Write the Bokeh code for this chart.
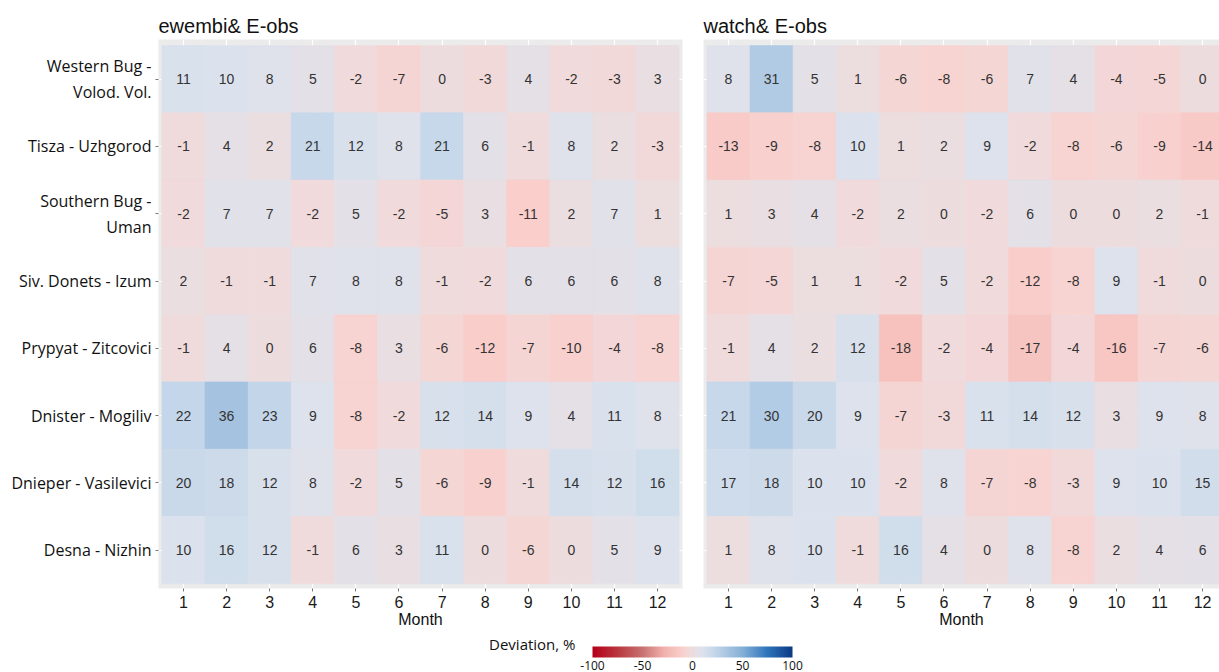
import numpy as np
from bokeh.plotting import figure
from bokeh.models import (ColumnDataSource, LinearColorMapper, ColorBar, FixedTicker,
                          Range1d, Label)
from bokeh.layouts import row, column
from bokeh.transform import transform
from bokeh.core.properties import value
from bokeh.embed import file_html
from bokeh.resources import INLINE

# ---------------- data ----------------
rivers = ["Western Bug -\nVolod. Vol.", "Tisza - Uzhgorod", "Southern Bug -\nUman",
          "Siv. Donets - Izum", "Prypyat - Zitcovici", "Dnister - Mogiliv",
          "Dnieper - Vasilevici", "Desna - Nizhin"]
months = [1, 2, 3, 4, 5, 6, 7, 8, 9, 10, 11, 12]

ewembi_vals = [
    [11, 10, 8, 5, -2, -7, 0, -3, 4, -2, -3, 3],
    [-1, 4, 2, 21, 12, 8, 21, 6, -1, 8, 2, -3],
    [-2, 7, 7, -2, 5, -2, -5, 3, -11, 2, 7, 1],
    [2, -1, -1, 7, 8, 8, -1, -2, 6, 6, 6, 8],
    [-1, 4, 0, 6, -8, 3, -6, -12, -7, -10, -4, -8],
    [22, 36, 23, 9, -8, -2, 12, 14, 9, 4, 11, 8],
    [20, 18, 12, 8, -2, 5, -6, -9, -1, 14, 12, 16],
    [10, 16, 12, -1, 6, 3, 11, 0, -6, 0, 5, 9],
]
watch_vals = [
    [8, 31, 5, 1, -6, -8, -6, 7, 4, -4, -5, 0],
    [-13, -9, -8, 10, 1, 2, 9, -2, -8, -6, -9, -14],
    [1, 3, 4, -2, 2, 0, -2, 6, 0, 0, 2, -1],
    [-7, -5, 1, 1, -2, 5, -2, -12, -8, 9, -1, 0],
    [-1, 4, 2, 12, -18, -2, -4, -17, -4, -16, -7, -6],
    [21, 30, 20, 9, -7, -3, 11, 14, 12, 3, 9, 8],
    [17, 18, 10, 10, -2, 8, -7, -8, -3, 9, 10, 15],
    [1, 8, 10, -1, 16, 4, 0, 8, -8, 2, 4, 6],
]
legend_ticks = [-100, -50, 0, 50, 100]
legend_labels = ["-100", "-50", "0", "50", "100"]

# ---------------- colour palette ----------------
anchor_v = [-100, -75, -50, -30, -18, -12, -8, -3, 0, 5, 10, 20, 30, 36, 50, 75, 100]
anchor_c = ["#b5001b", "#b8383e", "#c97273", "#f0aeaa", "#f7c3bf", "#f9cdca",
            "#f7d3d1", "#f1d9da", "#eedcdd", "#e4e0e7", "#dce2ed", "#c9d9ea",
            "#b3cce6", "#a6c3e0", "#85b0d8", "#2f74ba", "#0a3a82"]
rgb = np.array([[int(c[i:i + 2], 16) for i in (1, 3, 5)] for c in anchor_c], float)
vals = np.linspace(-100, 100, 256)
pal = []
for v in vals:
    ch = [np.interp(v, anchor_v, rgb[:, k]) for k in range(3)]
    pal.append("#%02x%02x%02x" % tuple(int(round(c)) for c in ch))
mapper = LinearColorMapper(palette=pal, low=-100, high=100)

PX_X = 43.1
FRAME_H = 549


def make_panel(title, data, show_y, frame_width, border_left, border_right):
    xs, ys, vs, labs = [], [], [], []
    n = len(rivers)
    for i, r in enumerate(rivers):
        for j, m in enumerate(months):
            xs.append(m)
            ys.append(n - i)
            vs.append(data[i][j])
            labs.append(str(data[i][j]))
    src = ColumnDataSource(dict(x=xs, y=ys, v=vs, lab=labs))
    x0 = 0.42
    p = figure(title=title, frame_width=frame_width, frame_height=FRAME_H,
               x_range=Range1d(x0, x0 + frame_width / PX_X),
               y_range=Range1d(0.43, 0.43 + 8.16),
               toolbar_location=None, output_backend="svg",
               y_axis_location="left" if show_y else None,
               min_border_left=border_left, min_border_right=border_right,
               min_border_top=39, min_border_bottom=44)
    p.background_fill_color = "#ebebeb"
    p.border_fill_color = "white"
    p.outline_line_color = None
    p.rect(x="x", y="y", width=1, height=1, source=src,
           fill_color=transform("v", mapper), line_color=transform("v", mapper),
           line_width=0.6)
    p.text(x="x", y="y", text="lab", source=src, text_font=value("Liberation Sans"),
           text_font_size="14px", text_color="#333333", text_align="center",
           text_baseline="middle")
    p.title.text_font = "Liberation Sans"
    p.title.text_font_size = "20px"
    p.title.text_font_style = "normal"
    p.title.text_color = "#111111"
    p.title.align = "left"
    p.title.standoff = 6

    p.xaxis.ticker = FixedTicker(ticks=months)
    p.xaxis.axis_label = "Month"
    p.xaxis.axis_label_text_font = "Liberation Sans"
    p.xaxis.axis_label_text_font_size = "16px"
    p.xaxis.axis_label_text_font_style = "normal"
    p.xaxis.axis_label_text_color = "#111111"
    p.xaxis.axis_label_standoff = 0
    p.xaxis.major_label_text_font = "Liberation Sans"
    p.xaxis.major_label_text_font_size = "16px"
    p.xaxis.major_label_text_color = "#1a1a1a"
    p.xaxis.major_label_standoff = 4
    p.xaxis.axis_line_color = None
    p.xaxis.major_tick_line_color = "#777777"
    p.xaxis.major_tick_in = 0
    p.xaxis.major_tick_out = 3
    p.xaxis.minor_tick_line_color = None

    yt = list(range(1, len(rivers) + 1))
    if show_y:
        p.yaxis.ticker = FixedTicker(ticks=yt)
        p.yaxis.major_label_overrides = {len(rivers) - i: r for i, r in enumerate(rivers)}
        p.yaxis.major_label_text_font = "Open Sans"
        p.yaxis.major_label_text_font_size = "16px"
        p.yaxis.major_label_text_color = "#111111"
        p.yaxis.major_label_standoff = 4
        p.yaxis.axis_line_color = None
        p.yaxis.major_tick_line_color = "#777777"
        p.yaxis.major_tick_in = 0
        p.yaxis.major_tick_out = 3
        p.yaxis.minor_tick_line_color = None
    p.xgrid.ticker = FixedTicker(ticks=months)
    p.ygrid.ticker = FixedTicker(ticks=yt)
    p.grid.grid_line_color = "white"
    p.grid.grid_line_width = 1.2
    return p


p1 = make_panel("ewembi& E-obs", ewembi_vals, True, 524, 158, 21)
p2 = make_panel("watch& E-obs", watch_vals, False, 516, 0, 0)

# ---------------- colour bar ----------------
pc = figure(width=1219, height=40, x_range=Range1d(0, 1), y_range=Range1d(0, 1),
            toolbar_location=None, output_backend="svg",
            x_axis_location=None, y_axis_location=None, min_border=0)
pc.grid.visible = False
pc.outline_line_color = None
pc.background_fill_color = "white"
cb = ColorBar(color_mapper=mapper, orientation="horizontal", width=200, height=11,
              location=(592, 0), padding=0, margin=0,
              ticker=FixedTicker(ticks=legend_ticks),
              major_label_overrides=dict(zip(legend_ticks, legend_labels)),
              major_label_text_font="Open Sans", major_label_text_font_size="12px",
              major_label_text_color="#111111",
              major_tick_line_color=None, bar_line_color=None,
              background_fill_alpha=0, border_line_color=None, label_standoff=3)
pc.add_layout(cb, "center")
pc.add_layout(Label(x=575, y=29, x_units="screen", y_units="screen",
                    text="Deviation, %", text_align="right", text_baseline="middle",
                    text_font="Open Sans", text_font_size="15px",
                    text_color="#111111"))

layout = column(row(p1, p2), pc)
open("out.html", "w").write(file_html(layout, INLINE))
